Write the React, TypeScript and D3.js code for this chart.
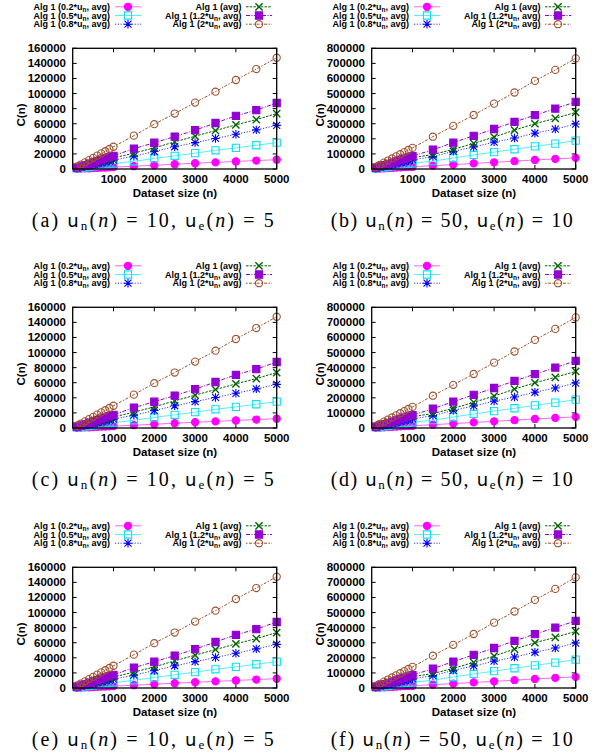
import React from "react";
import * as d3 from "d3";

// dataset sizes (n)
const sizes = [100, 200, 300, 400, 500, 600, 700, 800, 900, 1000, 1500, 2000, 2500, 3000, 3500, 4000, 4500, 5000];

// u_n(n) = 10, u_e(n) = 5
const low02 = [250, 500, 750, 1000, 1250, 1500, 1750, 2000, 2250, 2500, 3700, 5000, 6300, 7600, 8800, 10000, 11200, 12300];
const low05 = [700, 1400, 2100, 2800, 3500, 4200, 4900, 5600, 6300, 7000, 10200, 14000, 17500, 21000, 24800, 28000, 31500, 35000];
const low08 = [1170, 2340, 3500, 4700, 5850, 7000, 8200, 9350, 10500, 11700, 17000, 23200, 29500, 35000, 40500, 46000, 51800, 57800];
const lowAvg = [1450, 2900, 4400, 5850, 7300, 8750, 10200, 11700, 13100, 14600, 21000, 28000, 36000, 43500, 51000, 58500, 65500, 73500];
const low12 = [1750, 3500, 5250, 7000, 8750, 10500, 12250, 14000, 15750, 17500, 27000, 34800, 43000, 51500, 61000, 70500, 78000, 87500];
const low2 = [2950, 5900, 8850, 11800, 14750, 17700, 20650, 23600, 26550, 29500, 44200, 59400, 73500, 88000, 102500, 118000, 132500, 147500];

// u_n(n) = 50, u_e(n) = 10
const high02 = [1500, 3000, 4500, 6000, 7500, 9000, 10500, 12000, 13500, 15000, 22000, 29000, 37000, 44000, 52000, 60000, 67000, 74000];
const high05 = [3700, 7500, 11200, 15000, 18700, 22500, 26200, 30000, 33700, 37500, 52000, 73000, 93000, 112000, 131000, 150000, 168000, 188000];
const high08 = [6000, 12000, 18000, 24000, 30000, 36000, 42000, 48000, 54000, 60000, 82000, 117000, 146000, 178000, 205000, 237000, 265000, 298000];
const highAvg = [7500, 15000, 22500, 30000, 37500, 45000, 52500, 60000, 67500, 75000, 96000, 130000, 170000, 212000, 258000, 300000, 336000, 375000];
const high12 = [8500, 17000, 25500, 34000, 42500, 51000, 59500, 68000, 76500, 85000, 128000, 175000, 220000, 265000, 312000, 357000, 400000, 445000];
const high2 = [14000, 28000, 42000, 56000, 70000, 84000, 98000, 112000, 126000, 140000, 214000, 286000, 358000, 433000, 507000, 584000, 657000, 733000];

const factors = ["0.2", "0.5", "0.8", "avg", "1.2", "2"];
const lowTicks = [0, 20000, 40000, 60000, 80000, 100000, 120000, 140000, 160000];
const highTicks = [0, 100000, 200000, 300000, 400000, 500000, 600000, 700000, 800000];
const xTicks = [1000, 2000, 3000, 4000, 5000];

const letters = ["a", "b", "c", "d", "e", "f"];
const unValues = ["10", "50"];
const ueValues = ["5", "10"];

const styles = [
  { color: "#ff00ff", line: "#ff66ff", marker: "circleFill", dash: null },
  { color: "#00e5ee", line: "#55eeff", marker: "squareOpen", dash: null },
  { color: "#0000ff", line: "#3333ff", marker: "star", dash: "1.2 1.6" },
  { color: "#006400", line: "#006400", marker: "times", dash: "2.5 1.2" },
  { color: "#9400d3", line: "#9400d3", marker: "squareFill", dash: "4 1.5 1 1.5" },
  { color: "#a0522d", line: "#a0522d", marker: "circleOpen", dash: "1.5 1.5 3 1.5" },
];

const rowOffsets = [0, 259, 519];
const colOffset = 299;
const font = "'Liberation Sans', Arial, sans-serif";

function markerPath(kind: string) {
  const r = 3.6;
  if (kind === "circleFill" || kind === "circleOpen") return d3.symbol(d3.symbolCircle, Math.PI * r * r)()!;
  if (kind === "squareFill" || kind === "squareOpen") return `M${-r},${-r}h${2 * r}v${2 * r}h${-2 * r}Z`;
  if (kind === "times") return `M-3.6,-3.6L3.6,3.6M-3.6,3.6L3.6,-3.6`;
  return `M-3.5,-3.5L3.5,3.5M-3.5,3.5L3.5,-3.5M-4.2,0H4.2M0,-4.2V4.2`;
}

function Marker({ kind, color, x, y }: any) {
  const filled = kind === "circleFill" || kind === "squareFill";
  return (
    <path
      d={markerPath(kind)}
      transform={`translate(${x},${y})`}
      fill={filled ? color : "none"}
      stroke={color}
      strokeWidth={kind === "times" ? 1.4 : 1.1}
    />
  );
}

function LegendLabel({ f, x, y }: any) {
  if (f === "avg")
    return (
      <text x={x} y={y} textAnchor="end" fontFamily={font} fontWeight="bold" fontSize={9}>
        Alg 1 (avg)
      </text>
    );
  return (
    <text x={x} y={y} textAnchor="end" fontFamily={font} fontWeight="bold" fontSize={9}>
      {`Alg 1 (${f}*u`}
      <tspan fontSize={6.5} dy={2}>n</tspan>
      <tspan dy={-2}>, avg)</tspan>
    </text>
  );
}

function Panel({ row, col, series, ticks }: any) {
  const dx = col * colOffset;
  const dy = rowOffsets[row];
  const yMax = ticks[ticks.length - 1];
  const x = d3.scaleLinear().domain([0, 5000]).range([72.7 + dx, 276.7 + dx]);
  const y = d3.scaleLinear().domain([0, yMax]).range([169 + dy, 48.3 + dy]);
  const line = d3
    .line<number>()
    .x((_, i) => x(sizes[i]))
    .y((v) => y(v));
  const [x0, x1] = x.range();
  const [y0, y1] = y.range();
  const idx = row * 2 + col;

  return (
    <g>
      {/* legend */}
      {factors.map((f, i) => {
        const c = i < 3 ? 0 : 1;
        const r = i % 3;
        const ly = 6.8 + r * 8.7 + dy;
        const textEnd = (c === 0 ? 110 : 241.5) + dx;
        const s0 = (c === 0 ? 115 : 246) + dx;
        const s1 = (c === 0 ? 141 : 272) + dx;
        const st = styles[i];
        return (
          <g key={f}>
            <LegendLabel f={f} x={textEnd} y={ly + 3.2} />
            <line x1={s0} x2={s1} y1={ly} y2={ly} stroke={st.line} strokeWidth={1} strokeDasharray={st.dash ?? undefined} />
            <Marker kind={st.marker} color={st.color} x={(s0 + s1) / 2} y={ly} />
          </g>
        );
      })}

      {/* ticks */}
      {ticks.map((t: number) => (
        <g key={t}>
          <line x1={x0} x2={x0 + 4} y1={y(t)} y2={y(t)} stroke="#000" strokeWidth={1} />
          <line x1={x1} x2={x1 - 4} y1={y(t)} y2={y(t)} stroke="#000" strokeWidth={1} />
          <text x={66 + dx} y={y(t) + 4} textAnchor="end" fontFamily={font} fontWeight="bold" fontSize={11.5}>
            {t}
          </text>
        </g>
      ))}
      {xTicks.map((t) => (
        <g key={t}>
          <line x1={x(t)} x2={x(t)} y1={y0} y2={y0 - 4} stroke="#000" strokeWidth={1} />
          <line x1={x(t)} x2={x(t)} y1={y1} y2={y1 + 4} stroke="#000" strokeWidth={1} />
          <text x={x(t)} y={182.5 + dy} textAnchor="middle" fontFamily={font} fontWeight="bold" fontSize={11.5}>
            {t}
          </text>
        </g>
      ))}

      {/* series */}
      {series.map((vals: number[], i: number) => {
        const st = styles[i];
        return (
          <g key={i}>
            <path d={line(vals)!} fill="none" stroke={st.line} strokeWidth={1} strokeDasharray={st.dash ?? undefined} />
            {vals.map((v, j) => (
              <Marker key={j} kind={st.marker} color={st.color} x={x(sizes[j])} y={y(v)} />
            ))}
          </g>
        );
      })}

      <rect x={x0} y={y1} width={x1 - x0} height={y0 - y1} fill="none" stroke="#000" strokeWidth={1.3} />

      <text
        transform={`translate(${24.5 + dx},${115 + dy}) rotate(-90)`}
        textAnchor="middle"
        fontFamily={font}
        fontWeight="bold"
        fontSize={11.5}
      >
        C(n)
      </text>
      <text x={175 + dx} y={196.5 + dy} textAnchor="middle" fontFamily={font} fontWeight="bold" fontSize={11.5}>
        Dataset size (n)
      </text>

      {/* caption */}
      <text
        x={31.7 + dx}
        y={226.5 + dy}
        fontFamily="'Liberation Serif', 'DejaVu Serif', serif"
        fontSize={20}
        textLength={242}
        lengthAdjust="spacing"
      >
        {`(${letters[idx]}) `}
        <tspan fontFamily="'DejaVu Sans', sans-serif" fontSize={18}>u</tspan>
        <tspan fontSize={13} dy={3}>n</tspan>
        <tspan dy={-3}>(</tspan>
        <tspan fontStyle="italic">n</tspan>
        {`) = ${unValues[col]}, `}
        <tspan fontFamily="'DejaVu Sans', sans-serif" fontSize={18}>u</tspan>
        <tspan fontSize={13} dy={3}>e</tspan>
        <tspan dy={-3}>(</tspan>
        <tspan fontStyle="italic">n</tspan>
        {`) = ${ueValues[col]}`}
      </text>
    </g>
  );
}

export default function App() {
  const lowSeries = [low02, low05, low08, lowAvg, low12, low2];
  const highSeries = [high02, high05, high08, highAvg, high12, high2];
  return (
    <svg
      width={600}
      height={754}
      style={{ position: "absolute", left: 0, top: 0, background: "#fff" }}
    >
      {[0, 1, 2].map((row) => (
        <g key={row}>
          <Panel row={row} col={0} series={lowSeries} ticks={lowTicks} />
          <Panel row={row} col={1} series={highSeries} ticks={highTicks} />
        </g>
      ))}
    </svg>
  );
}
